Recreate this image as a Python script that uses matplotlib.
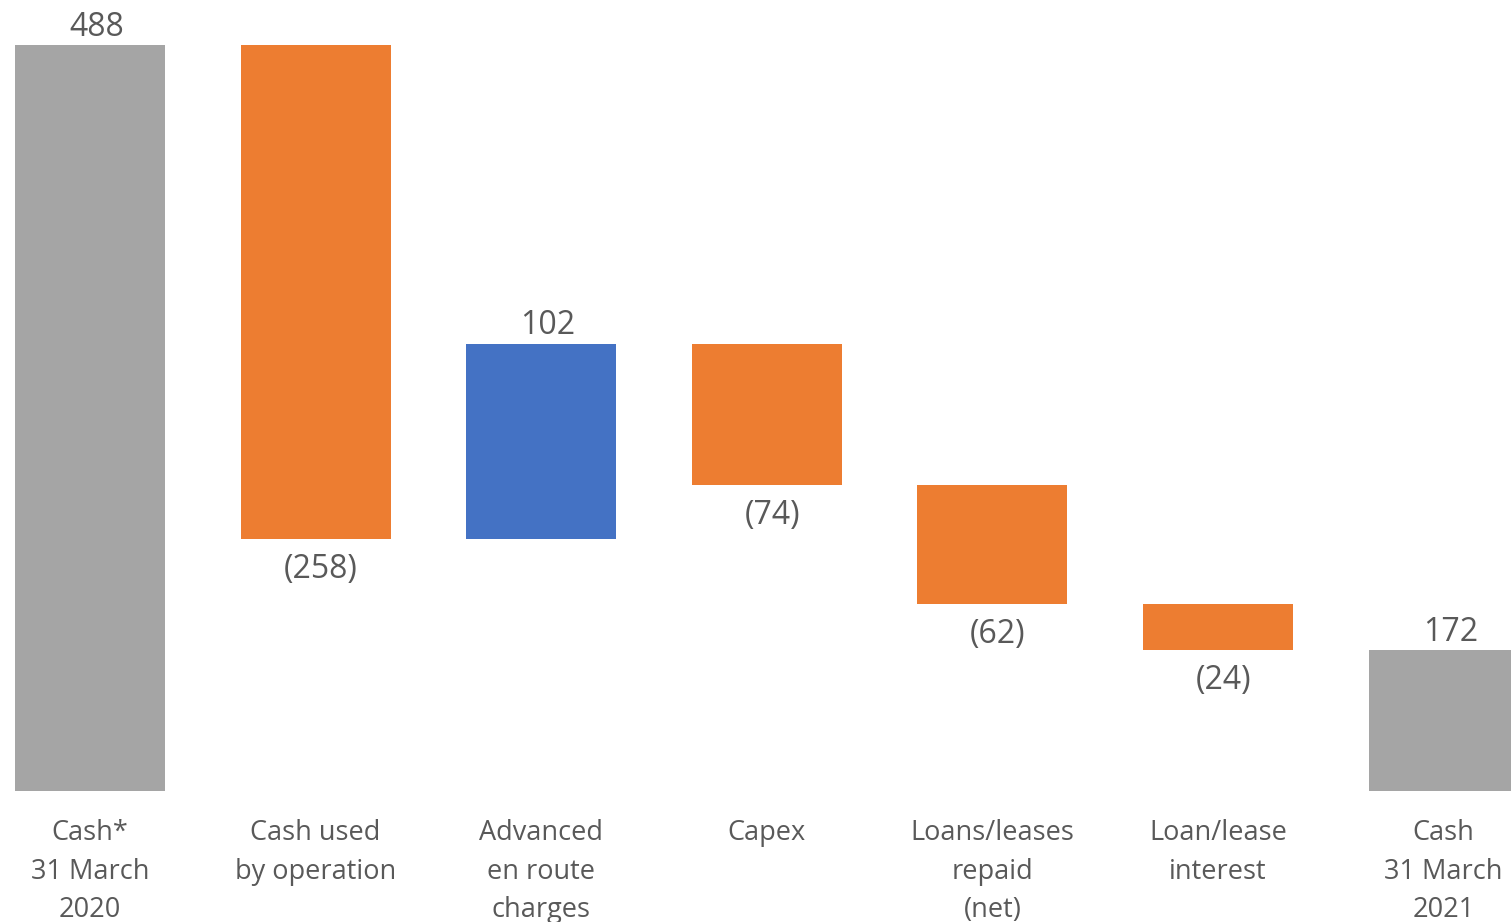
import numpy as np
import matplotlib
matplotlib.use("Agg")
import matplotlib.pyplot as plt

# data (GBP m)
categories = ["Cash*\n31 March\n2020", "Cash used\nby operation", "Advanced\nen route\ncharges",
              "Capex", "Loans/leases\nrepaid\n(net)", "Loan/lease\ninterest", "Cash\n31 March\n2021"]
opening = 488
changes = [-258, 102, -74, -62, -24]

grey = "#A5A5A5"
orange = "#ED7D31"
blue = "#4472C4"
txt = "#595959"

plt.rcParams["font.family"] = ["Open Sans", "DejaVu Sans"]

# build waterfall
closing = opening + sum(changes)
heights = [opening]
bottoms = [0]
colors = [grey]
running = opening
for c in changes:
    heights.append(abs(c))
    bottoms.append(min(running, running + c))
    colors.append(orange if c < 0 else blue)
    running += c
heights.append(closing)
bottoms.append(0)
colors.append(grey)

x = np.arange(len(categories))

fig = plt.figure(figsize=(15.11, 9.22), dpi=100)
ax = fig.add_axes([0, 0.1421, 1, 0.8579])
ax.bar(x, heights, bottom=bottoms, width=0.665, color=colors)
ax.set_xlim(-0.399, 6.299)
ax.set_ylim(98.4, 511.5)
ax.axis("off")

# value labels
vals = [opening] + changes + [closing]
for i, v in enumerate(vals):
    top = bottoms[i] + heights[i]
    if v >= 0:
        ax.annotate(f"{v}", (x[i], top), xytext=(5, 1), textcoords="offset points",
                    ha="center", va="bottom", fontsize=23, color=txt)
    else:
        ax.annotate(f"({-v})", (x[i], bottoms[i]), xytext=(4, -10), textcoords="offset points",
                    ha="center", va="top", fontsize=23, color=txt)

# category labels
for i, lab in enumerate(categories):
    ax.annotate(lab, (x[i], 98.4), xytext=(0, -20.5), textcoords="offset points",
                ha="center", va="top", fontsize=19.5, color=txt, linespacing=1.5,
                annotation_clip=False)

fig.savefig("out.png", dpi=100)
